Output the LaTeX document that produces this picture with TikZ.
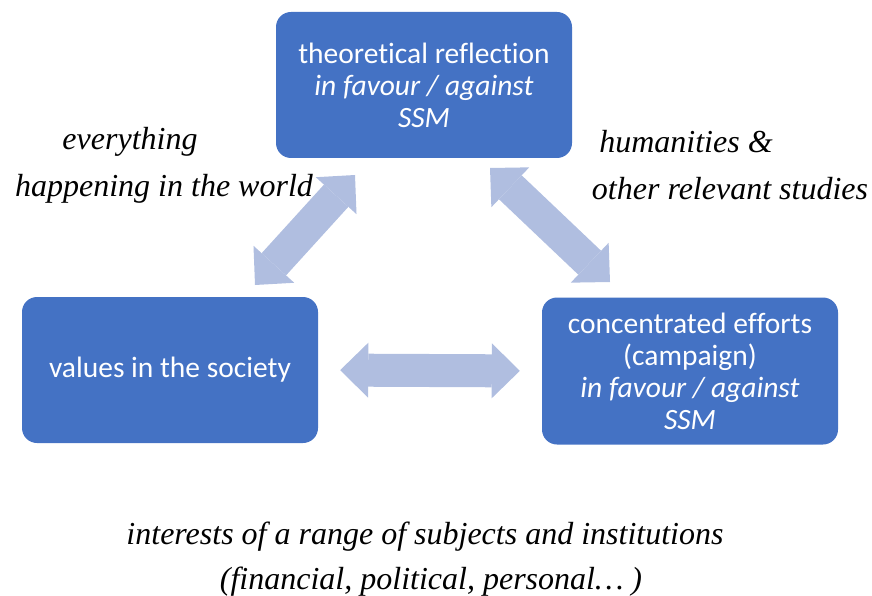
\documentclass[tikz,border=0pt]{standalone}
\usepackage{fontspec}
\setmainfont{Liberation Serif}
\newfontfamily\boxfont{Carlito}[Ligatures={NoCommon}]
\usetikzlibrary{positioning,arrows.meta}
\definecolor{boxblue}{RGB}{68,114,196}
\definecolor{arrowblue}{RGB}{176,190,224}

\begin{document}
\begin{tikzpicture}[x=1pt, y=-1pt,
  box/.style = {shape=rectangle, rounded corners=15pt, fill=boxblue, text=white,
    minimum width=296pt, minimum height=146pt, align=center,
    font=\boxfont\fontsize{29.5}{32}\selectfont},
  note/.style = {font=\itshape\fontsize{32}{47}\selectfont, inner sep=0pt},
  fat/.style = {draw=arrowblue, line width=33pt,
    {Triangle[width=55pt, length=28pt, line width=0pt]}-{Triangle[width=55pt, length=28pt, line width=0pt]}}]
  \useasboundingbox (0,0) rectangle (872,596);

  \node[box] (tr) at (424,85) {theoretical reflection\\ \textit{in favour / against}\\ \textit{SSM}};
  \node[box] (vs) at (170,370) {values in the society};
  \node[box, minimum height=147pt] (ce) at (690,371) {concentrated efforts\\ (campaign)\\ \textit{in favour / against}\\ \textit{SSM}};

  \coordinate (vs-tip) at (255,285);
  \coordinate (tr-tipl) at (355,175);
  \coordinate (tr-tipr) at (490,168);
  \coordinate (ce-tip) at (610,282);
  \draw[fat] (vs-tip) -- (tr-tipl);
  \draw[fat] (tr-tipr) -- (ce-tip);
  \draw[fat, shorten <=22pt, shorten >=22pt] (vs.east) -- (ce.west);

  \node[note] (ev) at (130,142) {everything};
  \node[note] (hw) at (164,189) {happening in the world};
  \node[note] (hu) at (686,142) {humanities \&};
  \node[note] (os) at (730,189) {other relevant studies};
  \node[note] (in) at (425,537) {interests of a range of subjects and institutions};
  \node[note] (fp) at (431,582) {(financial, political, personal… )};
\end{tikzpicture}
\end{document}
